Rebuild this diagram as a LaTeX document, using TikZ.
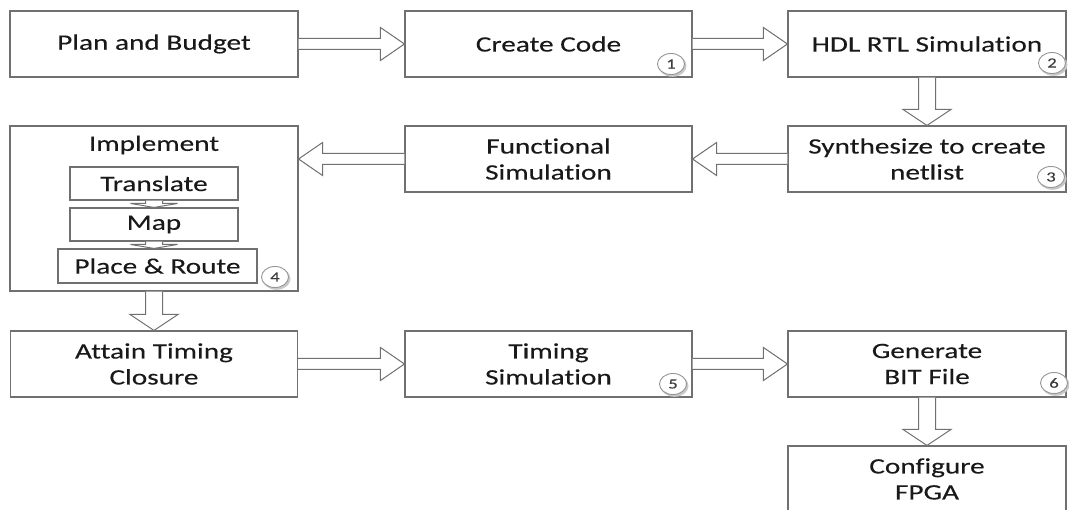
\documentclass[tikz,border=0pt]{standalone}
\usepackage{fontspec}
\usetikzlibrary{calc,shapes.geometric}
\newfontfamily\boxfont{Carlito}[FakeStretch=1.33, FakeBold=0.2, Ligatures={NoCommon}]
\definecolor{edge}{RGB}{112,112,112}
\definecolor{ink}{RGB}{25,25,25}
\definecolor{badge}{RGB}{150,150,150}
\definecolor{badgeshadow}{RGB}{200,200,200}
\definecolor{badgeink}{RGB}{60,60,60}

% hollow block arrow: start, end, shaft half-width, head half-width, head length
\newcommand{\blockarrow}[5]{%
  \coordinate (ba-m) at ($(#2)!#5!(#1)$);
  \draw[arrowline] ($(#1)!#3!90:(#2)$) -- ($(ba-m)!#3!90:(#2)$)
    -- ($(ba-m)!#4!90:(#2)$) -- (#2) -- ($(ba-m)!#4!-90:(#2)$)
    -- ($(ba-m)!#3!-90:(#2)$) -- ($(#1)!#3!-90:(#2)$);
}
\newcommand{\harrow}[2]{\blockarrow{#1}{#2}{5.5pt}{16.5pt}{24pt}}
\newcommand{\varrow}[2]{\blockarrow{#1}{#2}{8.5pt}{24pt}{16pt}}

\tikzset{
  stepbox/.style={draw=edge, line width=1.1pt, fill=white, align=center,
    inner sep=0pt, text=ink, font=\boxfont\fontsize{22}{26}\selectfont},
  subbox/.style={stepbox},
  arrowline/.style={draw=edge, line width=1pt, fill=white, line join=miter},
  badgenum/.style={ellipse, draw=badge, line width=0.9pt, fill=white,
    minimum width=27pt, minimum height=21pt, inner sep=0pt, text=badgeink,
    font=\boxfont\fontsize{14}{14}\selectfont},
}

\begin{document}
\begin{tikzpicture}[x=1pt, y=-1pt]
\useasboundingbox (0,0) rectangle (1069,510);
\fill[white] (0,0) rectangle (1069,510);

% first row
\node[stepbox, minimum width=288pt, minimum height=66pt] (pb) at (154,44) {Plan and Budget};
\node[stepbox, minimum width=287pt, minimum height=66pt] (cc) at (548.5,44) {Create Code};
\node[stepbox, minimum width=278pt, minimum height=66pt] (hdl) at (927,44) {HDL RTL Simulation};

% second row
\node[stepbox, minimum width=288pt, minimum height=165pt] (impl) at (154,208.5) {};
\node[text=ink, inner sep=0pt, font=\boxfont\fontsize{22}{26}\selectfont] (implt) at (154,145) {Implement};
\node[subbox, minimum width=168pt, minimum height=33pt] (tr) at (154,183.5) {Translate};
\node[subbox, minimum width=168pt, minimum height=33pt] (map) at (154,224.5) {Map};
\node[subbox, minimum width=199pt, minimum height=34pt] (pr) at (157.5,266) {Place \& Route};
\node[stepbox, minimum width=287pt, minimum height=66pt] (fs) at (548.5,159) {Functional\\Simulation};
\node[stepbox, minimum width=278pt, minimum height=66pt] (syn) at (927,159) {Synthesize to create\\netlist};

% third row
\node[stepbox, minimum width=287pt, minimum height=66pt] (at) at (154,364) {Attain Timing\\Closure};
\node[stepbox, minimum width=287pt, minimum height=66pt] (ts) at (548.5,364) {Timing\\Simulation};
\node[stepbox, minimum width=278pt, minimum height=66pt] (gb) at (927,364) {Generate\\BIT File};
\node[stepbox, minimum width=278pt, minimum height=66pt] (cf) at (927,479) {Configure\\FPGA};

% connectors
\coordinate (impl-in) at (fs.west -| impl.east);
\coordinate (pr-in) at (map.south |- pr.north);
\harrow{pb.east}{cc.west}
\harrow{cc.east}{hdl.west}
\varrow{hdl.south}{syn.north}
\harrow{syn.west}{fs.east}
\harrow{fs.west}{impl-in}
\blockarrow{tr.south}{map.north}{8.5pt}{23.5pt}{4pt}
\blockarrow{map.south}{pr-in}{8.5pt}{23.5pt}{4pt}
\varrow{impl.south}{at.north}
\harrow{at.east}{ts.west}
\harrow{ts.east}{gb.west}
\varrow{gb.south}{cf.north}

% numbered step badges
\foreach \n/\px/\py in {1/671/64, 2/1052/63, 3/1051/177, 4/275/277, 5/673/384, 6/1054/383}{
  \fill[badgeshadow] (\px+1.5,\py+1.8) ellipse (14pt and 11pt);
  \node[badgenum] (b\n) at (\px,\py) {\n};
}
\end{tikzpicture}
\end{document}
